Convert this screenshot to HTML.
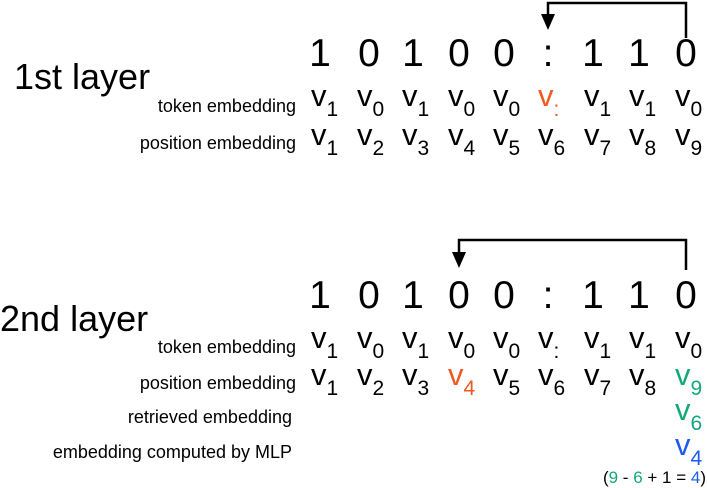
<!DOCTYPE html>
<html><head><meta charset="utf-8"><style>
html,body{margin:0;padding:0;background:#fff;width:707px;height:488px;overflow:hidden}
svg{display:block}
text{font-family:"Liberation Sans","DejaVu Sans",sans-serif;fill:#000}
.d{font-size:39px;text-anchor:middle}
.v{font-size:31px}
.s{font-size:21px}
.l{font-size:18px;text-anchor:end}
.big{font-size:36px}
</style></head><body>
<svg width="707" height="488" viewBox="0 0 707 488" xmlns="http://www.w3.org/2000/svg">
<polyline points="548,15 548,3 686,3 686,38" fill="none" stroke="#000" stroke-width="2.5"/>
<polygon points="541,14 555,14 548,30" fill="#000"/>
<polyline points="459,252 459,240 686,240 686,270" fill="none" stroke="#000" stroke-width="2.5"/>
<polygon points="452,252 466,252 459,268" fill="#000"/>

<text class="d" x="320" y="66">1</text><text class="d" x="369" y="66">0</text><text class="d" x="413" y="66">1</text><text class="d" x="459" y="66">0</text><text class="d" x="504" y="66">0</text><text class="d" x="548" y="66">:</text><text class="d" x="593" y="66">1</text><text class="d" x="639" y="66">1</text><text class="d" x="686" y="66">0</text>
<text class="big" x="14" y="89">1st layer</text>
<text class="l" x="296" y="112">token embedding</text>
<text class="l" x="296" y="149">position embedding</text>
<text y="106"><tspan class="v" x="311">v</tspan><tspan class="s" dy="10">1</tspan></text>
<text y="106"><tspan class="v" x="357">v</tspan><tspan class="s" dy="10">0</tspan></text>
<text y="106"><tspan class="v" x="402">v</tspan><tspan class="s" dy="10">1</tspan></text>
<text y="106"><tspan class="v" x="448">v</tspan><tspan class="s" dy="10">0</tspan></text>
<text y="106"><tspan class="v" x="493">v</tspan><tspan class="s" dy="10">0</tspan></text>
<text y="106" style="fill:#f05a1e"><tspan class="v" x="538">v</tspan><tspan class="s" dy="10">:</tspan></text>
<text y="106"><tspan class="v" x="584">v</tspan><tspan class="s" dy="10">1</tspan></text>
<text y="106"><tspan class="v" x="629">v</tspan><tspan class="s" dy="10">1</tspan></text>
<text y="106"><tspan class="v" x="675">v</tspan><tspan class="s" dy="10">0</tspan></text>
<text y="145"><tspan class="v" x="311">v</tspan><tspan class="s" dy="10">1</tspan></text>
<text y="145"><tspan class="v" x="357">v</tspan><tspan class="s" dy="10">2</tspan></text>
<text y="145"><tspan class="v" x="402">v</tspan><tspan class="s" dy="10">3</tspan></text>
<text y="145"><tspan class="v" x="448">v</tspan><tspan class="s" dy="10">4</tspan></text>
<text y="145"><tspan class="v" x="493">v</tspan><tspan class="s" dy="10">5</tspan></text>
<text y="145"><tspan class="v" x="538">v</tspan><tspan class="s" dy="10">6</tspan></text>
<text y="145"><tspan class="v" x="584">v</tspan><tspan class="s" dy="10">7</tspan></text>
<text y="145"><tspan class="v" x="629">v</tspan><tspan class="s" dy="10">8</tspan></text>
<text y="145"><tspan class="v" x="675">v</tspan><tspan class="s" dy="10">9</tspan></text>

<text class="d" x="320" y="308">1</text><text class="d" x="369" y="308">0</text><text class="d" x="413" y="308">1</text><text class="d" x="459" y="308">0</text><text class="d" x="504" y="308">0</text><text class="d" x="548" y="308">:</text><text class="d" x="593" y="308">1</text><text class="d" x="639" y="308">1</text><text class="d" x="686" y="308">0</text>
<text class="big" x="0" y="331">2nd layer</text>
<text class="l" x="296" y="353">token embedding</text>
<text class="l" x="296" y="389">position embedding</text>
<text class="l" x="292" y="423">retrieved embedding</text>
<text class="l" x="292" y="458">embedding computed by MLP</text>
<text y="348"><tspan class="v" x="311">v</tspan><tspan class="s" dy="10">1</tspan></text>
<text y="348"><tspan class="v" x="357">v</tspan><tspan class="s" dy="10">0</tspan></text>
<text y="348"><tspan class="v" x="402">v</tspan><tspan class="s" dy="10">1</tspan></text>
<text y="348"><tspan class="v" x="448">v</tspan><tspan class="s" dy="10">0</tspan></text>
<text y="348"><tspan class="v" x="493">v</tspan><tspan class="s" dy="10">0</tspan></text>
<text y="348"><tspan class="v" x="538">v</tspan><tspan class="s" dy="10">:</tspan></text>
<text y="348"><tspan class="v" x="584">v</tspan><tspan class="s" dy="10">1</tspan></text>
<text y="348"><tspan class="v" x="629">v</tspan><tspan class="s" dy="10">1</tspan></text>
<text y="348"><tspan class="v" x="675">v</tspan><tspan class="s" dy="10">0</tspan></text>
<text y="385"><tspan class="v" x="311">v</tspan><tspan class="s" dy="10">1</tspan></text>
<text y="385"><tspan class="v" x="357">v</tspan><tspan class="s" dy="10">2</tspan></text>
<text y="385"><tspan class="v" x="402">v</tspan><tspan class="s" dy="10">3</tspan></text>
<text y="385" style="fill:#f05a1e"><tspan class="v" x="448">v</tspan><tspan class="s" dy="10">4</tspan></text>
<text y="385"><tspan class="v" x="493">v</tspan><tspan class="s" dy="10">5</tspan></text>
<text y="385"><tspan class="v" x="538">v</tspan><tspan class="s" dy="10">6</tspan></text>
<text y="385"><tspan class="v" x="584">v</tspan><tspan class="s" dy="10">7</tspan></text>
<text y="385"><tspan class="v" x="629">v</tspan><tspan class="s" dy="10">8</tspan></text>
<text y="385" style="fill:#13a87a"><tspan class="v" x="675">v</tspan><tspan class="s" dy="10">9</tspan></text>
<text y="420" style="fill:#13a87a"><tspan class="v" x="675">v</tspan><tspan class="s" dy="10">6</tspan></text>
<text y="455" style="fill:#1a5cf0"><tspan class="v" x="675">v</tspan><tspan class="s" dy="10">4</tspan></text>
<text x="706" y="483" style="font-size:17px;text-anchor:end">(<tspan style="fill:#13a87a">9</tspan> - <tspan style="fill:#13a87a">6</tspan> + 1 = <tspan style="fill:#1a5cf0">4</tspan>)</text>
</svg>
</body></html>
